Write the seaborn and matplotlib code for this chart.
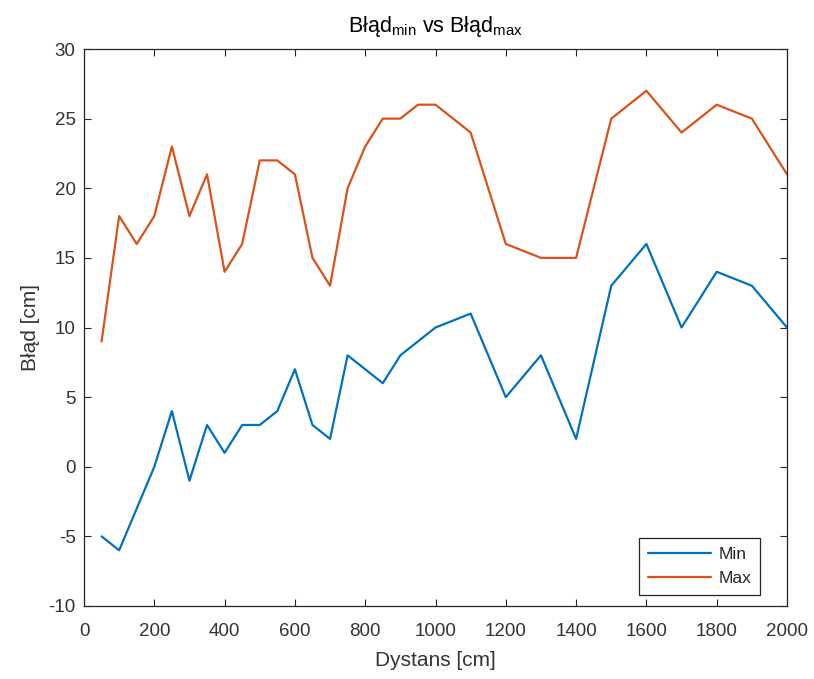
import matplotlib
matplotlib.use("Agg")
import matplotlib.pyplot as plt
import numpy as np
import pandas as pd
import seaborn as sns

# ─── DATA ────────────────────────────────────────────────────────────────────
dystans = [50, 100, 150, 200, 250, 300, 350, 400, 450, 500, 550, 600, 650, 700,
           750, 800, 850, 900, 950, 1000, 1100, 1200, 1300, 1400, 1500, 1600,
           1700, 1800, 1900, 2000]
blad_min = [-5, -6, -3, 0, 4, -1, 3, 1, 3, 3, 4, 7, 3, 2,
            8, 7, 6, 8, 9, 10, 11, 5, 8, 2, 13, 16,
            10, 14, 13, 10]
blad_max = [9, 18, 16, 18, 23, 18, 21, 14, 16, 22, 22, 21, 15, 13,
            20, 23, 25, 25, 26, 26, 24, 16, 15, 15, 25, 27,
            24, 26, 25, 21]

df = pd.DataFrame({
    "Dystans": dystans * 2,
    "Blad": blad_min + blad_max,
    "Seria": ["Min"] * len(dystans) + ["Max"] * len(dystans),
})

# ─── STYLE ───────────────────────────────────────────────────────────────────
sns.set_style("ticks")
plt.rcParams["font.family"] = ["Liberation Sans", "DejaVu Sans"]
plt.rcParams["mathtext.fontset"] = "custom"
plt.rcParams["mathtext.rm"] = "Liberation Sans"
plt.rcParams["mathtext.it"] = "Liberation Sans"
plt.rcParams["axes.unicode_minus"] = False
AX_COL = "#262626"
TXT_COL = "#333333"

fig = plt.figure(figsize=(8.14, 6.79), dpi=100)
ax = fig.add_axes([84 / 814, 1 - 606 / 679, (787 - 84) / 814, (606 - 49) / 679])

sns.lineplot(data=df, x="Dystans", y="Blad", hue="Seria",
             palette={"Min": "#0072BD", "Max": "#D95319"},
             linewidth=1.6, ax=ax, sort=False)

ax.set_xlim(0, 2000)
ax.set_ylim(-10, 30)
ax.set_xticks(range(0, 2001, 200))
ax.set_yticks(range(-10, 31, 5))
ax.tick_params(direction="in", top=True, right=True, length=5, width=0.8,
               labelsize=13.5, colors=AX_COL, labelcolor=TXT_COL, pad=6)
ax.tick_params(axis="x", pad=12)
for sp in ax.spines.values():
    sp.set_visible(True)
    sp.set_color(AX_COL)
    sp.set_linewidth(0.9)

ax.set_xlabel("Dystans [cm]", fontsize=15, color=TXT_COL, labelpad=8)
ax.set_ylabel("Błąd [cm]", fontsize=15, color=TXT_COL, labelpad=6)
ax.set_title(r"Błąd$_{\mathrm{min}}$ vs Błąd$_{\mathrm{max}}$",
             fontsize=15.5, color="black", pad=12)

leg = ax.legend(loc="lower right", bbox_to_anchor=(0.9616, 0.0197),
                borderaxespad=0, fontsize=12.5, frameon=True, fancybox=False,
                handlelength=3.6, handletextpad=0.45,
                borderpad=0.5, labelspacing=0.55)
leg.get_frame().set_edgecolor(AX_COL)
leg.get_frame().set_linewidth(0.9)
leg.get_frame().set_alpha(1)

fig.savefig("out.png", dpi=100, facecolor="white")
